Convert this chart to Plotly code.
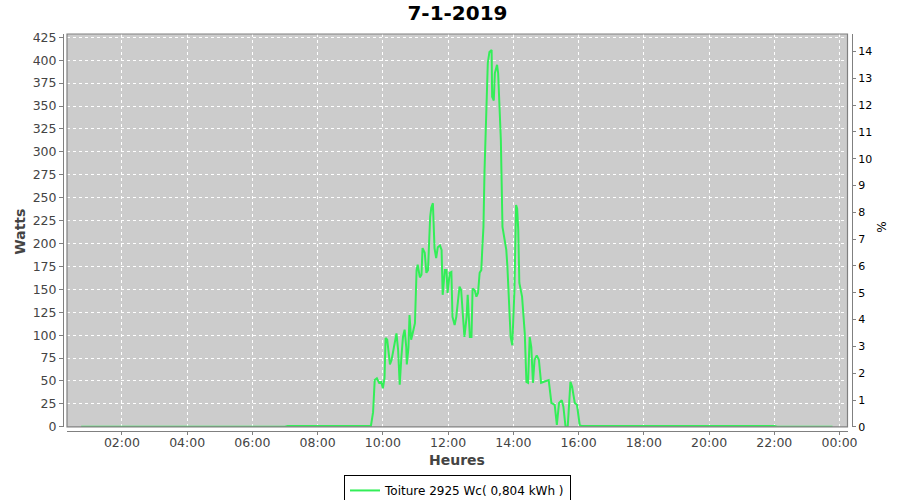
import plotly.graph_objects as go

# ---- data ----
day = "2019-01-07"
times = [
    "00:45", "07:00", "07:05", "09:38", "09:42", "09:45", "09:49", "09:53", "09:57",
    "10:00", "10:03", "10:05", "10:08", "10:13", "10:16", "10:22", "10:25", "10:28",
    "10:31", "10:34", "10:37", "10:40", "10:43", "10:44", "10:47", "10:49", "10:52",
    "10:56", "10:59", "11:02", "11:04", "11:08", "11:11", "11:13", "11:17", "11:20",
    "11:23", "11:27", "11:29", "11:32", "11:35", "11:38", "11:41", "11:45", "11:48",
    "11:50", "11:54", "11:57", "11:59", "12:03", "12:06", "12:08", "12:12", "12:15",
    "12:21", "12:24", "12:27", "12:30", "12:34", "12:36", "12:40", "12:43", "12:45",
    "12:49", "12:52", "12:55", "12:58", "13:01", "13:03", "13:05", "13:07", "13:10",
    "13:13", "13:16", "13:20", "13:21", "13:24", "13:26", "13:30", "13:32", "13:35",
    "13:37", "13:40", "13:44", "13:47", "13:49", "13:51", "13:55", "13:58", "14:02",
    "14:05", "14:07", "14:09", "14:11", "14:16", "14:21", "14:24", "14:27", "14:30",
    "14:33", "14:36", "14:39", "14:43", "14:47", "14:51", "14:57", "15:05", "15:10",
    "15:16", "15:20", "15:24", "15:29", "15:32", "15:36", "15:40", "15:45", "15:48",
    "15:53", "15:57", "16:02", "16:05", "22:00", "22:05", "23:47",
]
watts = [
    0, 0, 1, 1, 16, 51, 53, 48, 49,
    42, 53, 97, 95, 68, 73, 93, 102, 84,
    46, 76, 98, 106, 87, 68, 86, 122, 95,
    105, 113, 171, 177, 163, 166, 195, 190, 168,
    171, 229, 239, 244, 195, 184, 196, 198, 193,
    144, 171, 171, 146, 168, 169, 120, 111, 120,
    153, 149, 124, 98, 120, 144, 98, 98, 151,
    149, 142, 146, 168, 171, 196, 218, 280, 337,
    397, 409, 411, 360, 356, 386, 395, 386, 345,
    313, 218, 201, 193, 175, 149, 98, 89, 149,
    242, 238, 215, 157, 142, 102, 49, 48, 98,
    87, 48, 73, 78, 73, 48, 49, 51, 26,
    24, 2, 26, 29, 22, 0, 0, 49, 44,
    26, 24, 2, 1, 1, 0, 0,
]
series_name = "Toiture 2925 Wc( 0,804 kWh )"
title_text = "7-1-2019"
x_title = "Heures"
y_title = "Watts"
y2_title = "%"
peak_power = 2925  # Wc -> 1 % = 29.25 W

x_vals = [f"{day} {t}" for t in times]

W_MAX = 428.6
P_MAX = W_MAX / (peak_power / 100.0)

FONT = "DejaVu Sans"
GREEN = "#33ee58"

fig = go.Figure()
fig.add_trace(go.Scatter(
    x=x_vals, y=watts, mode="lines", name=series_name,
    line=dict(color=GREEN, width=2), yaxis="y",
))
fig.add_trace(go.Scatter(
    x=[x_vals[0]], y=[0], mode="markers", marker=dict(opacity=0),
    showlegend=False, yaxis="y2", hoverinfo="skip",
))

# pixel layout helpers
L, R, T, B = 63, 48, 34, 68.5
pw = 900 - L - R
ph = 500 - T - B


def px(xp):
    return (xp - L) / pw


def py(yp):
    return (500 - B - yp) / ph


fig.update_layout(
    width=900, height=500,
    margin=dict(l=L, r=R, t=T, b=B, autoexpand=False),
    paper_bgcolor="white", plot_bgcolor="#cccccc",
    font=dict(family=FONT, size=12, color="#444444"),
    title=dict(text=f"<b>{title_text}</b>", x=0.5, xanchor="center",
               y=1 - 13 / 500, yanchor="middle", xref="paper", yref="container",
               font=dict(family=FONT, size=20, color="black")),
    showlegend=True,
    legend=dict(orientation="h", x=0.5, xanchor="center",
                y=py(475.5), yanchor="top",
                bordercolor="black", borderwidth=1, bgcolor="white",
                font=dict(family=FONT, size=12, color="black"),
                itemwidth=30, tracegroupgap=0),
    xaxis=dict(
        type="date", automargin=False,
        domain=[4 / pw, 1 - 4.5 / pw],
        range=[f"{day} 00:19", "2019-01-08 00:14:36"],
        tick0=f"{day} 00:00", dtick=2 * 3600 * 1000, tickformat="%H:%M",
        showgrid=True, gridcolor="white", griddash="3px,3px", gridwidth=1,
        zeroline=False,
        showline=True, linecolor="#808080", linewidth=1,
        anchor="free", position=0,
        ticks="outside", ticklen=3, tickcolor="#808080",
        ticklabelstandoff=-3,
        tickfont=dict(family=FONT, size=12.5, color="#444444"),
    ),
    yaxis=dict(
        automargin=False,
        domain=[4.2 / ph, 1],
        range=[0, W_MAX], tick0=0, dtick=25,
        showgrid=True, gridcolor="white", griddash="3px,3px", gridwidth=1,
        zeroline=False,
        showline=True, linecolor="#808080", linewidth=1,
        anchor="free", position=0,
        ticks="outside", ticklen=4, tickcolor="#808080",
        tickfont=dict(family=FONT, size=12.5, color="#444444"),
    ),
    yaxis2=dict(
        automargin=False,
        overlaying="y", side="right",
        range=[0, P_MAX], tick0=0, dtick=1,
        showgrid=False, zeroline=False,
        showline=True, linecolor="#808080", linewidth=1,
        anchor="free", position=1,
        ticks="outside", ticklen=3, tickcolor="#808080",
        tickfont=dict(family=FONT, size=11, color="black"),
    ),
    annotations=[
        dict(text=f"<b>{y_title}</b>", xref="paper", yref="paper",
             x=px(20), y=py(232), xanchor="center", yanchor="middle",
             textangle=-90, showarrow=False,
             font=dict(family=FONT, size=14, color="#444444")),
        dict(text=f"<b>{x_title}</b>", xref="paper", yref="paper",
             x=px(457), y=py(461), xanchor="center", yanchor="middle",
             showarrow=False,
             font=dict(family=FONT, size=14, color="#444444")),
        dict(text=y2_title, xref="paper", yref="paper",
             x=px(882), y=py(228), xanchor="center", yanchor="middle",
             textangle=-90, showarrow=False,
             font=dict(family=FONT, size=12, color="black")),
    ],
    shapes=[dict(type="rect", xref="x domain", yref="y domain",
                 x0=0, x1=1, y0=0, y1=1,
                 line=dict(color="#808080", width=1.2), layer="above")],
)

fig.write_html(
    "out.html",
    config={"displayModeBar": False},
    post_script="document.body.style.margin='0';document.body.style.overflow='hidden';",
)
